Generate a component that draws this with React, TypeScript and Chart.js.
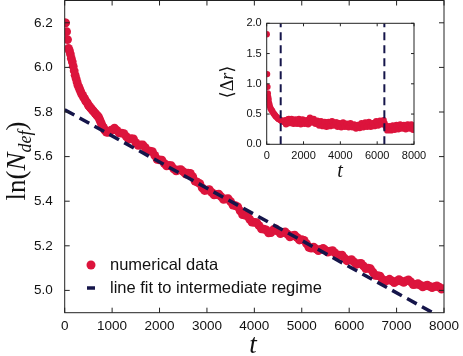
import React, { useEffect, useRef } from "react";
import { Chart, registerables } from "chart.js";

Chart.register(...registerables);

// ---------------- data ----------------
const MAIN_T = [
  0, 20, 40, 60, 80, 100, 120, 140, 160, 180, 200, 220, 240, 260, 280, 300, 320, 340, 360, 380,
  400, 420, 440, 460, 480, 500, 520, 540, 560, 580, 600, 620, 640, 660, 680, 700, 720, 740, 760, 780,
  800, 820, 840, 860, 880, 900, 920, 940, 960, 980,
  1000, 1100, 1200, 1300, 1400, 1500, 1600, 1700, 1800, 1900, 2000, 2100, 2200, 2300, 2400, 2500,
  2600, 2700, 2800, 2900, 3000, 3100, 3200, 3300, 3400, 3500, 3600, 3700, 3800, 3900, 4000, 4100,
  4200, 4300, 4400, 4500, 4600, 4700, 4800, 4900, 5000, 5100, 5200, 5300, 5400, 5500, 5600, 5700,
  5800, 5900, 6000, 6100, 6200, 6300, 6400, 6500, 6600, 6700, 6800, 6900, 7000, 7100, 7200, 7300,
  7400, 7500, 7600, 7700, 7800, 7900, 8000,
  1050, 1150, 1250, 1350, 1450, 1550, 1650, 1750, 1850, 1950, 2050, 2150, 2250, 2350, 2450, 2550,
  2650, 2750, 2850, 2950, 3050, 3150, 3250, 3350, 3450, 3550, 3650, 3750, 3850, 3950, 4050, 4150,
  4250, 4350, 4450, 4550, 4650, 4750, 4850, 4950, 5050, 5150, 5250, 5350, 5450, 5550, 5650, 5750,
  5850, 5950, 6050, 6150, 6250, 6350, 6450, 6550, 6650, 6750, 6850, 6950, 7050, 7150, 7250, 7350,
  7450, 7550, 7650, 7750, 7850, 7950,
];
const MAIN_LN = [
  6.2, 6.2, 6.16, 6.125, 6.085, 6.075, 6.06, 6.04, 6.025, 6.005, 5.985, 5.965, 5.95, 5.935, 5.92, 5.91, 5.9, 5.89, 5.88, 5.875,
  5.865, 5.86, 5.85, 5.845, 5.84, 5.83, 5.825, 5.82, 5.815, 5.81, 5.805, 5.8, 5.795, 5.79, 5.785, 5.78, 5.775, 5.765, 5.755, 5.745,
  5.735, 5.73, 5.72, 5.715, 5.71, 5.71, 5.71, 5.712, 5.715, 5.718,
  5.72, 5.718, 5.705, 5.69, 5.68, 5.663, 5.652, 5.64, 5.625, 5.605, 5.585, 5.57, 5.56, 5.545, 5.54, 5.533,
  5.526, 5.51, 5.485, 5.46, 5.45, 5.44, 5.43, 5.42, 5.41, 5.398, 5.38, 5.357, 5.338, 5.32, 5.305, 5.29,
  5.275, 5.258, 5.272, 5.266, 5.259, 5.252, 5.245, 5.238, 5.228, 5.21, 5.19, 5.186, 5.184, 5.18, 5.176, 5.168,
  5.158, 5.145, 5.136, 5.128, 5.12, 5.11, 5.1, 5.082, 5.066, 5.05, 5.045, 5.043, 5.042, 5.042, 5.043, 5.038,
  5.027, 5.024, 5.02, 5.018, 5.017, 5.015, 5.008,
  5.728, 5.706, 5.703, 5.678, 5.679, 5.65, 5.652, 5.626, 5.622, 5.588, 5.584, 5.558, 5.559, 5.536, 5.542, 5.522,
  5.525, 5.49, 5.479, 5.448, 5.452, 5.428, 5.432, 5.408, 5.411, 5.382, 5.375, 5.34, 5.334, 5.306, 5.304, 5.276,
  5.271, 5.259, 5.276, 5.255, 5.262, 5.24, 5.248, 5.226, 5.224, 5.193, 5.194, 5.178, 5.188, 5.172, 5.178, 5.156,
  5.158, 5.133, 5.138, 5.117, 5.121, 5.098, 5.097, 5.067, 5.064, 5.04, 5.05, 5.035, 5.048, 5.036, 5.047, 5.026,
  5.03, 5.016, 5.024, 5.012, 5.02, 5.006,
];
const FIT_T = [0, 8000];
const FIT_LN = [5.81, 4.872];

const INSET_T = [
  0, 20, 40, 60, 80, 100, 130, 160, 200, 250, 300, 350, 400, 450, 500, 550, 600, 650, 700, 750, 800, 850, 900, 950,
  1000, 1100, 1200, 1300, 1400, 1500, 1600, 1700, 1800, 1900, 2000, 2100, 2200, 2300, 2400, 2500,
  2600, 2700, 2800, 2900, 3000, 3100, 3200, 3300, 3400, 3500, 3600, 3700, 3800, 3900, 4000, 4100,
  4200, 4300, 4400, 4500, 4600, 4700, 4800, 4900, 5000, 5100, 5200, 5300, 5400, 5500, 5600, 5700,
  5800, 5900, 6000, 6100, 6200, 6300, 6400, 6500, 6600, 6700, 6800, 6900, 7000, 7100, 7200, 7300,
  7400, 7500, 7600, 7700, 7800, 7900, 8000,
  1050, 1150, 1250, 1350, 1450, 1550, 1650, 1750, 1850, 1950, 2050, 2150, 2250, 2350, 2450, 2550,
  2650, 2750, 2850, 2950, 3050, 3150, 3250, 3350, 3450, 3550, 3650, 3750, 3850, 3950, 4050, 4150,
  4250, 4350, 4450, 4550, 4650, 4750, 4850, 4950, 5050, 5150, 5250, 5350, 5450, 5550, 5650, 5750,
  5850, 5950, 6050, 6150, 6250, 6350, 6450, 6550, 6650, 6750, 6850, 6950, 7050, 7150, 7250, 7350,
  7450, 7550, 7650, 7750, 7850, 7950,
];
const INSET_DR = [
  1.82, 1.16, 0.95, 0.84, 0.78, 0.74, 0.68, 0.64, 0.6, 0.57, 0.55, 0.52, 0.5, 0.48, 0.46, 0.45, 0.43, 0.42, 0.41, 0.4, 0.39, 0.38, 0.38, 0.37,
  0.4, 0.36, 0.42, 0.37, 0.39, 0.35, 0.4, 0.38, 0.36, 0.39, 0.37, 0.35, 0.38, 0.4, 0.41, 0.37,
  0.39, 0.36, 0.34, 0.36, 0.33, 0.35, 0.32, 0.36, 0.34, 0.37, 0.35, 0.33, 0.36, 0.33, 0.31, 0.34,
  0.32, 0.3, 0.33, 0.31, 0.32, 0.29, 0.31, 0.28, 0.3, 0.33, 0.31, 0.34, 0.32, 0.35, 0.33, 0.31,
  0.34, 0.36, 0.33, 0.35, 0.37, 0.38, 0.35, 0.27, 0.25, 0.28, 0.26, 0.29, 0.27, 0.3, 0.28, 0.31,
  0.29, 0.27, 0.3, 0.32, 0.29, 0.31, 0.27,
  0.33, 0.41, 0.35, 0.42, 0.34, 0.41, 0.34, 0.42, 0.33, 0.41, 0.34, 0.4, 0.33, 0.44, 0.36, 0.42,
  0.34, 0.39, 0.31, 0.38, 0.3, 0.37, 0.29, 0.37, 0.3, 0.38, 0.31, 0.36, 0.29, 0.35, 0.28, 0.36,
  0.29, 0.34, 0.28, 0.35, 0.28, 0.33, 0.26, 0.32, 0.27, 0.35, 0.28, 0.36, 0.29, 0.37, 0.29, 0.35,
  0.3, 0.38, 0.31, 0.39, 0.33, 0.4, 0.31, 0.23, 0.3, 0.23, 0.31, 0.24, 0.32, 0.25, 0.33, 0.26,
  0.32, 0.25, 0.33, 0.26, 0.33, 0.24,
];
const INSET_VLINES = [760, 6390];

const MAIN_X_TICKS = [0, 1000, 2000, 3000, 4000, 5000, 6000, 7000, 8000];
const MAIN_Y_TICKS = [5.0, 5.2, 5.4, 5.6, 5.8, 6.0, 6.2];
const INSET_X_TICKS = [0, 2000, 4000, 6000, 8000];
const INSET_Y_TICKS = [0.0, 0.5, 1.0, 1.5, 2.0];

const LEGEND_LABELS = ["numerical data", "line fit to intermediate regime"];

// ---------------- styles ----------------
const RED = "#DC143C";
const NAVY = "#15154A";
const SANS = "'Liberation Sans', Arial, Helvetica, sans-serif";
const SERIF = "'Liberation Serif', 'DejaVu Serif', 'Times New Roman', serif";

type Seg = { text: string; italic?: boolean; size: number; dy?: number };

function drawSegs(ctx: CanvasRenderingContext2D, segs: Seg[], cx: number, cy: number, rot: number) {
  ctx.save();
  ctx.translate(cx, cy);
  ctx.rotate(rot);
  ctx.fillStyle = "#111";
  ctx.textBaseline = "alphabetic";
  ctx.textAlign = "left";
  const widths = segs.map((s) => {
    ctx.font = `${s.italic ? "italic " : ""}${s.size}px ${SERIF}`;
    return ctx.measureText(s.text).width;
  });
  const total = widths.reduce((a, b) => a + b, 0);
  let x = -total / 2;
  const base = segs[0].size * 0.33;
  segs.forEach((s, i) => {
    ctx.font = `${s.italic ? "italic " : ""}${s.size}px ${SERIF}`;
    ctx.fillText(s.text, x, base + (s.dy || 0));
    x += widths[i];
  });
  ctx.restore();
}

function frameTicksPlugin(len: number) {
  return {
    id: "frameTicks",
    afterDraw(chart: any) {
      const { ctx, chartArea, scales } = chart;
      const { left, right, top, bottom } = chartArea;
      ctx.save();
      ctx.strokeStyle = "#222";
      ctx.lineWidth = 1;
      ctx.strokeRect(left, top, right - left, bottom - top);
      ctx.beginPath();
      scales.x.ticks.forEach((t: any) => {
        const px = scales.x.getPixelForValue(t.value);
        ctx.moveTo(px, bottom);
        ctx.lineTo(px, bottom - len);
        ctx.moveTo(px, top);
        ctx.lineTo(px, top + len);
      });
      scales.y.ticks.forEach((t: any) => {
        const py = scales.y.getPixelForValue(t.value);
        ctx.moveTo(left, py);
        ctx.lineTo(left + len, py);
        ctx.moveTo(right, py);
        ctx.lineTo(right - len, py);
      });
      ctx.stroke();
      ctx.restore();
    },
  };
}

// pins the top of the plot area to a fixed pixel row
function pinTopPlugin(topPx: number) {
  return {
    id: "pinTop",
    afterLayout(chart: any) {
      const ca = chart.chartArea;
      ca.top = topPx;
      ca.height = ca.bottom - ca.top;
      const y = chart.scales.y;
      y.top = topPx;
      y.height = y.bottom - y.top;
      y.configure();
    },
  };
}

const whiteAreaPlugin = {
  id: "whiteArea",
  beforeDraw(chart: any) {
    const { ctx, chartArea } = chart;
    ctx.save();
    ctx.fillStyle = "#fff";
    ctx.fillRect(chartArea.left, chartArea.top, chartArea.right - chartArea.left, chartArea.bottom - chartArea.top);
    ctx.restore();
  },
};

const mainLabelsPlugin = {
  id: "mainLabels",
  afterDraw(chart: any) {
    const ctx: CanvasRenderingContext2D = chart.ctx;
    drawSegs(
      ctx,
      [
        { text: "ln(", size: 27 },
        { text: "N", italic: true, size: 27 },
        { text: "def", italic: true, size: 18, dy: 6 },
        { text: ")", size: 27 },
      ],
      16,
      161,
      -Math.PI / 2
    );
    drawSegs(ctx, [{ text: "t", italic: true, size: 27 }], 253, 344, 0);
    ctx.save();
    ctx.fillStyle = RED;
    ctx.beginPath();
    ctx.arc(91, 265, 4.5, 0, Math.PI * 2);
    ctx.fill();
    ctx.strokeStyle = NAVY;
    ctx.lineWidth = 3.5;
    ctx.beginPath();
    ctx.moveTo(87, 288);
    ctx.lineTo(95, 288);
    ctx.stroke();
    ctx.fillStyle = "#111";
    ctx.font = `16.5px ${SANS}`;
    ctx.textBaseline = "middle";
    ctx.textAlign = "left";
    ctx.fillText(LEGEND_LABELS[0], 110, 265);
    ctx.fillText(LEGEND_LABELS[1], 110, 288);
    ctx.restore();
  },
};

const insetLabelsPlugin = {
  id: "insetLabels",
  afterDraw(chart: any) {
    const ctx: CanvasRenderingContext2D = chart.ctx;
    drawSegs(
      ctx,
      [
        { text: "\u27E8\u0394", size: 18 },
        { text: "r", italic: true, size: 18 },
        { text: "\u27E9", size: 18 },
      ],
      12,
      67,
      -Math.PI / 2
    );
    drawSegs(ctx, [{ text: "t", italic: true, size: 20 }], 125, 155, 0);
  },
};

const zeroPadX = (h: number) => (s: any) => {
  s.height = h;
  s.paddingLeft = 0;
  s.paddingRight = 0;
  s.paddingTop = 0;
  s.paddingBottom = 0;
};
const zeroPadY = (w: number) => (s: any) => {
  s.width = w;
  s.paddingLeft = 0;
  s.paddingRight = 0;
  s.paddingTop = 0;
  s.paddingBottom = 0;
};

export default function App() {
  const mainRef = useRef<HTMLCanvasElement>(null);
  const insetRef = useRef<HTMLCanvasElement>(null);

  useEffect(() => {
    document.body.style.margin = "0";
    const mainChart = new Chart(mainRef.current as HTMLCanvasElement, {
      type: "scatter",
      data: {
        datasets: [
          {
            label: LEGEND_LABELS[1],
            type: "line",
            data: FIT_T.map((t, i) => ({ x: t, y: FIT_LN[i] })),
            borderColor: NAVY,
            borderWidth: 3.5,
            borderDash: [11, 6],
            borderCapStyle: "butt",
            pointRadius: 0,
            fill: false,
            order: 0,
          } as any,
          {
            label: LEGEND_LABELS[0],
            data: MAIN_T.map((t, i) => ({ x: t, y: MAIN_LN[i] })),
            backgroundColor: RED,
            borderWidth: 0,
            pointRadius: 4.4,
            order: 1,
          },
        ],
      },
      options: {
        responsive: false,
        animation: false,
        layout: { padding: { left: 0, right: 19, top: 0.5, bottom: 0 } },
        plugins: { legend: { display: false }, tooltip: { enabled: false } },
        scales: {
          x: {
            type: "linear",
            min: 0,
            max: 8000,
            grid: { display: false, drawTicks: false },
            border: { display: false },
            afterBuildTicks: (s: any) => {
              s.ticks = MAIN_X_TICKS.map((v) => ({ value: v }));
            },
            afterFit: zeroPadX(43.3),
            ticks: {
              padding: 5,
              color: "#111",
              maxRotation: 0,
              autoSkip: false,
              font: { family: SANS, size: 13.5 },
              callback: (v: any) => String(v),
            },
          },
          y: {
            type: "linear",
            min: 4.9,
            max: 6.3,
            grid: { display: false, drawTicks: false },
            border: { display: false },
            afterBuildTicks: (s: any) => {
              s.ticks = MAIN_Y_TICKS.map((v) => ({ value: v }));
            },
            afterFit: zeroPadY(64.7),
            ticks: {
              padding: 12,
              color: "#111",
              autoSkip: false,
              font: { family: SANS, size: 13.5 },
              callback: (v: any) => Number(v).toFixed(1),
            },
          },
        },
      },
      plugins: [pinTopPlugin(0.5), frameTicksPlugin(5), mainLabelsPlugin],
    });

    const insetChart = new Chart(insetRef.current as HTMLCanvasElement, {
      type: "scatter",
      data: {
        datasets: [
          ...INSET_VLINES.map(
            (t) =>
              ({
                type: "line",
                data: [
                  { x: t, y: 0 },
                  { x: t, y: 2 },
                ],
                borderColor: NAVY,
                borderWidth: 2,
                borderDash: [8, 5],
                borderCapStyle: "butt",
                pointRadius: 0,
                fill: false,
                order: 0,
              } as any)
          ),
          {
            data: INSET_T.map((t, i) => ({ x: t, y: INSET_DR[i] })),
            backgroundColor: RED,
            borderWidth: 0,
            pointRadius: 3.2,
            order: 1,
          },
        ],
      },
      options: {
        responsive: false,
        animation: false,
        layout: { padding: { left: 0, right: 21, top: 8.3, bottom: 0 } },
        plugins: { legend: { display: false }, tooltip: { enabled: false } },
        scales: {
          x: {
            type: "linear",
            min: 0,
            max: 8000,
            grid: { display: false, drawTicks: false },
            border: { display: false },
            afterBuildTicks: (s: any) => {
              s.ticks = INSET_X_TICKS.map((v) => ({ value: v }));
            },
            afterFit: zeroPadX(40.7),
            ticks: {
              padding: 5,
              color: "#111",
              maxRotation: 0,
              autoSkip: false,
              font: { family: SANS, size: 11 },
              callback: (v: any) => String(v),
            },
          },
          y: {
            type: "linear",
            min: 0,
            max: 2,
            grid: { display: false, drawTicks: false },
            border: { display: false },
            afterBuildTicks: (s: any) => {
              s.ticks = INSET_Y_TICKS.map((v) => ({ value: v }));
            },
            afterFit: zeroPadY(51.7),
            ticks: {
              padding: 5,
              color: "#111",
              autoSkip: false,
              font: { family: SANS, size: 11 },
              callback: (v: any) => Number(v).toFixed(1),
            },
          },
        },
      },
      plugins: [pinTopPlugin(8.3), whiteAreaPlugin, frameTicksPlugin(3), insetLabelsPlugin],
    });

    return () => {
      mainChart.destroy();
      insetChart.destroy();
    };
  }, []);

  return (
    <div style={{ position: "fixed", left: 0, top: 0, width: 463, height: 356, background: "#fff" }}>
      <canvas
        ref={mainRef}
        width={463}
        height={356}
        style={{ position: "absolute", left: 0, top: 0, width: 463, height: 356 }}
      />
      <canvas
        ref={insetRef}
        width={220}
        height={170}
        style={{ position: "absolute", left: 215, top: 15, width: 220, height: 170 }}
      />
    </div>
  );
}
